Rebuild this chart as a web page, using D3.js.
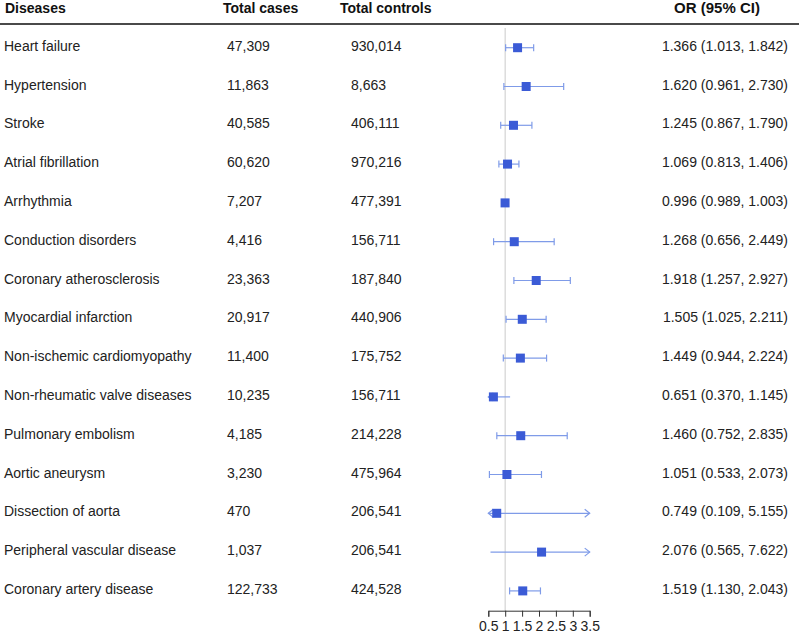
<!DOCTYPE html>
<html>
<head>
<meta charset="utf-8">
<script src="https://cdn.jsdelivr.net/npm/d3@7"></script>
<style>
  body { margin: 0; background: #fff; }
  svg { display: block; font-family: "Liberation Sans", Arial, Helvetica, sans-serif; }
</style>
</head>
<body>
<svg id="chart"></svg>
<script>
// forest plot data
const diseases = ["Heart failure", "Hypertension", "Stroke", "Atrial fibrillation", "Arrhythmia",
  "Conduction disorders", "Coronary atherosclerosis", "Myocardial infarction",
  "Non-ischemic cardiomyopathy", "Non-rheumatic valve diseases", "Pulmonary embolism",
  "Aortic aneurysm", "Dissection of aorta", "Peripheral vascular disease", "Coronary artery disease"];
const cases = ["47,309", "11,863", "40,585", "60,620", "7,207", "4,416", "23,363", "20,917",
  "11,400", "10,235", "4,185", "3,230", "470", "1,037", "122,733"];
const controls = ["930,014", "8,663", "406,111", "970,216", "477,391", "156,711", "187,840",
  "440,906", "175,752", "156,711", "214,228", "475,964", "206,541", "206,541", "424,528"];
const orValue = [1.366, 1.620, 1.245, 1.069, 0.996, 1.268, 1.918, 1.505, 1.449, 0.651, 1.460, 1.051, 0.749, 2.076, 1.519];
const ciLow = [1.013, 0.961, 0.867, 0.813, 0.989, 0.656, 1.257, 1.025, 0.944, 0.370, 0.752, 0.533, 0.109, 0.565, 1.130];
const ciHigh = [1.842, 2.730, 1.790, 1.406, 1.003, 2.449, 2.927, 2.211, 2.224, 1.145, 2.835, 2.073, 5.155, 7.622, 2.043];
const axisTicks = [0.5, 1, 1.5, 2, 2.5, 3, 3.5];
const headers = ["Diseases", "Total cases", "Total controls", "OR (95% CI)"];

const width = 799, height = 636;
const svg = d3.select("#chart").attr("width", width).attr("height", height);

const rows = diseases.map((d, i) => ({
  name: d, cases: cases[i], controls: controls[i],
  or: orValue[i], lo: ciLow[i], hi: ciHigh[i]
}));

const x = d3.scaleLinear().domain([0.5, 3.5]).range([488.3, 589.7]);
const y = d3.scaleLinear().domain([0, rows.length - 1]).range([47.7, 47.7 + 38.8 * (rows.length - 1)]);
const fmt = d3.format(".3f");

const boxColor = "#3b5bd6";
const lineColor = "#7f9be8";

// header
const head = svg.append("g").style("font-weight", "bold").style("font-size", "14px").attr("fill", "#111");
head.append("text").attr("x", 5).attr("y", 13).text(headers[0]);
head.append("text").attr("x", 223).attr("y", 13).text(headers[1]);
head.append("text").attr("x", 340).attr("y", 13).text(headers[2]);
head.append("text").attr("x", 717).attr("y", 13).attr("text-anchor", "middle")
  .style("font-size", "15px").text(headers[3]);

svg.append("line").attr("x1", 0).attr("x2", width).attr("y1", 24).attr("y2", 24)
  .attr("stroke", "#4a4a4a").attr("stroke-width", 2);

// reference line at OR = 1
svg.append("line").attr("x1", x(1)).attr("x2", x(1)).attr("y1", 28).attr("y2", 610.7)
  .attr("stroke", "#dcdcdc").attr("stroke-width", 1.5);

// table text
const g = svg.selectAll("g.row").data(rows).enter().append("g").attr("class", "row")
  .style("font-size", "14px").attr("fill", "#222");
g.append("text").attr("x", 4).attr("y", (d, i) => y(i) + 3).text(d => d.name);
g.append("text").attr("x", 227).attr("y", (d, i) => y(i) + 3).text(d => d.cases);
g.append("text").attr("x", 351).attr("y", (d, i) => y(i) + 3).text(d => d.controls);
g.append("text").attr("x", 788).attr("y", (d, i) => y(i) + 3).attr("text-anchor", "end")
  .text(d => `${fmt(d.or)} (${fmt(d.lo)}, ${fmt(d.hi)})`);

// CI lines, clipped to the axis range
const [dmin, dmax] = x.domain();
g.append("line")
  .attr("x1", d => x(Math.max(d.lo, dmin)))
  .attr("x2", d => x(Math.min(d.hi, dmax)))
  .attr("y1", (d, i) => y(i)).attr("y2", (d, i) => y(i))
  .attr("stroke", lineColor).attr("stroke-width", 1.2);

// caps only when both ends fall inside the range
const capped = d => d.lo >= dmin && d.hi <= dmax;
["lo", "hi"].forEach(k => {
  g.filter(capped).append("line")
    .attr("x1", d => x(d[k])).attr("x2", d => x(d[k]))
    .attr("y1", d => y(rows.indexOf(d)) - 3.5)
    .attr("y2", d => y(rows.indexOf(d)) + 3.5)
    .attr("stroke", lineColor).attr("stroke-width", 1.2);
});

// arrows for truncated intervals
g.filter(d => d.lo < dmin).append("path")
  .attr("d", d => { const cx = x(dmin), cy = y(rows.indexOf(d));
    return `M${cx + 5},${cy - 4}L${cx},${cy}L${cx + 5},${cy + 4}`; })
  .attr("fill", "none").attr("stroke", lineColor).attr("stroke-width", 1.2);
g.filter(d => d.hi > dmax).append("path")
  .attr("d", d => { const cx = x(dmax), cy = y(rows.indexOf(d));
    return `M${cx - 5},${cy - 4}L${cx},${cy}L${cx - 5},${cy + 4}`; })
  .attr("fill", "none").attr("stroke", lineColor).attr("stroke-width", 1.2);

// point estimates
const bs = 9;
g.append("rect")
  .attr("x", d => x(d.or) - bs / 2).attr("y", (d, i) => y(i) - bs / 2)
  .attr("width", bs).attr("height", bs).attr("fill", boxColor);

// x axis
const axis = svg.append("g").attr("transform", "translate(0,610.7)")
  .call(d3.axisBottom(x).tickValues(axisTicks).tickSize(6).tickPadding(4).tickFormat(d3.format("")));
axis.select(".domain").attr("stroke", "#333");
axis.selectAll(".tick line").attr("stroke", "#333");
axis.selectAll(".tick text").style("font-size", "14px").attr("fill", "#222")
  .style("font-family", "\"Liberation Sans\", Arial, sans-serif");
</script>
</body>
</html>
